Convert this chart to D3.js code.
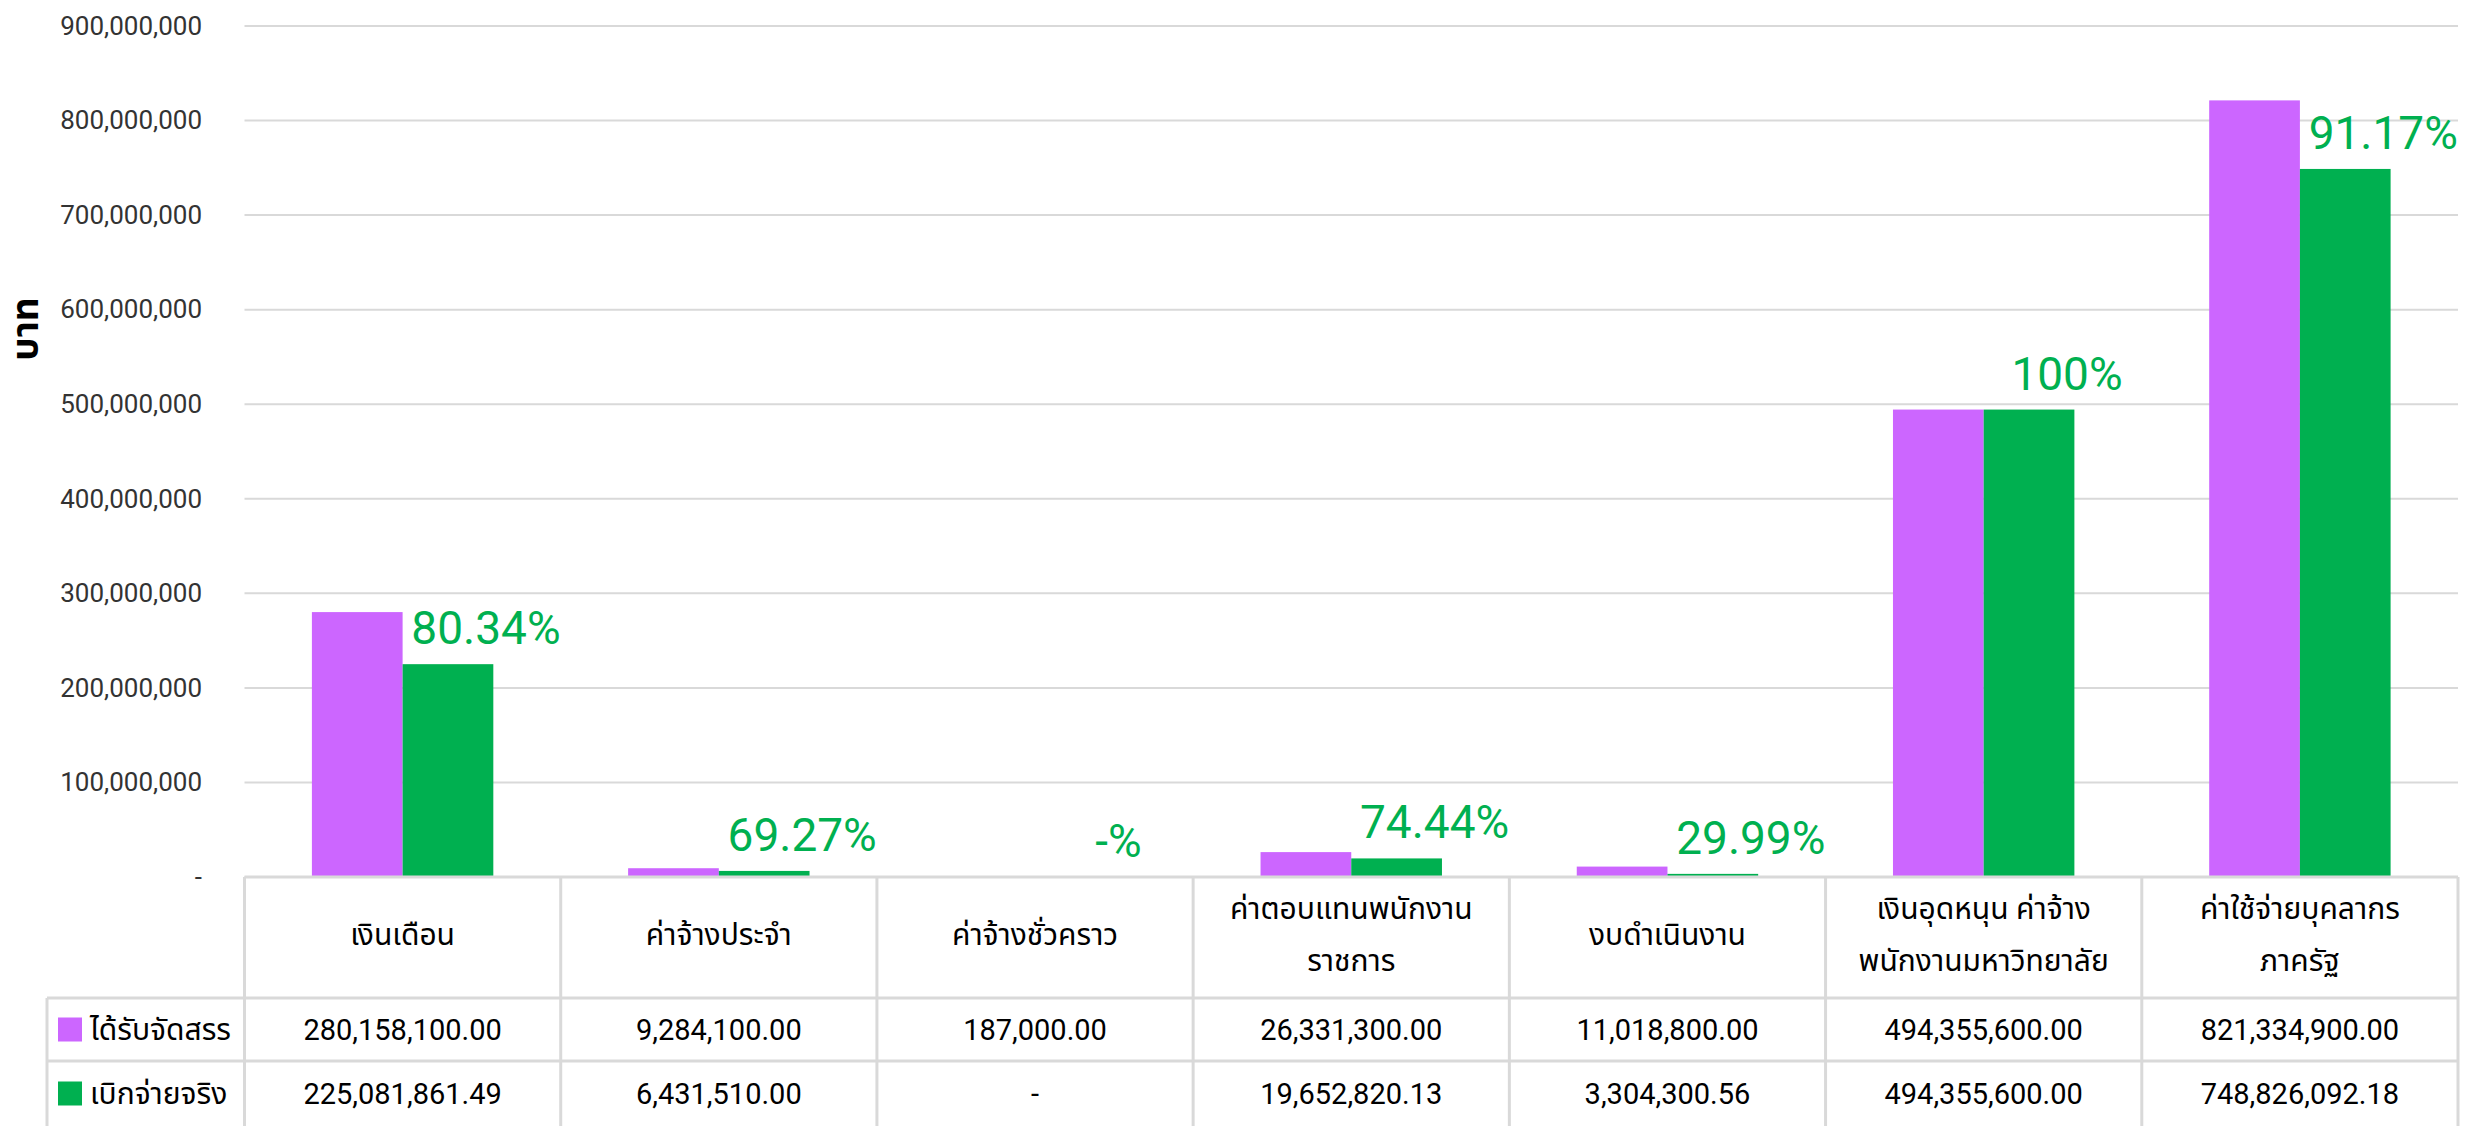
<!DOCTYPE html>
<html lang="th">
<head>
<meta charset="utf-8">
<script src="https://d3js.org/d3.v7.min.js"></script>
<style type="text/css">
body { margin: 0; background: #fff; }
text { font-family: Roboto, "Noto Sans Thai", Tahoma, sans-serif; }
</style>
</head>
<body>
<div id="chart"></div>
<script type="text/javascript">
// categories (header lines of the table)
var categories = [
    ["เงินเดือน"],
    ["ค่าจ้างประจำ"],
    ["ค่าจ้างชั่วคราว"],
    ["ค่าตอบแทนพนักงาน", "ราชการ"],
    ["งบดำเนินงาน"],
    ["เงินอุดหนุน ค่าจ้าง", "พนักงานมหาวิทยาลัย"],
    ["ค่าใช้จ่ายบุคลากร", "ภาครัฐ"]
];
var seriesNames = ["ได้รับจัดสรร", "เบิกจ่ายจริง"];
var allocated = [280158100.00, 9284100.00, 187000.00, 26331300.00, 11018800.00, 494355600.00, 821334900.00];
var spent = [225081861.49, 6431510.00, null, 19652820.13, 3304300.56, 494355600.00, 748826092.18];
var percentLabels = ["80.34%", "69.27%", "-%", "74.44%", "29.99%", "100%", "91.17%"];
var yTicks = [0, 100000000, 200000000, 300000000, 400000000, 500000000, 600000000, 700000000, 800000000, 900000000];
var yTitle = "บาท";

var colorList = ["#CC66FF", "#00B050"];

let width = 2473;
let height = 1126;

let svg = d3.select("#chart")
    .append("svg")
    .attr("width", width)
    .attr("height", height);

let plotLeft = 244.5, plotRight = 2458, plotTop = 26, zero = 877;
let headerBottom = 998, row1Bottom = 1061, tableBottom = 1126;

let x = d3.scaleBand()
    .domain(d3.range(categories.length))
    .range([plotLeft, plotRight]);

let x1 = d3.scaleBand()
    .domain([0, 1])
    .range([0, x.bandwidth()])
    .paddingOuter(0.743);

let y = d3.scaleLinear()
    .domain([0, 900000000])
    .range([zero, plotTop]);

// gridlines
svg.append("g")
    .selectAll("line")
    .data(yTicks)
    .enter()
    .append("line")
    .attr("x1", plotLeft)
    .attr("x2", plotRight)
    .attr("y1", d => y(d))
    .attr("y2", d => y(d))
    .attr("stroke", "#D9D9D9")
    .attr("stroke-width", 2);

// y axis labels
let yAxis = d3.axisLeft(y)
    .tickValues(yTicks)
    .tickSize(0)
    .tickPadding(0)
    .tickFormat(d => d === 0 ? "-" : d3.format(",")(d));

let ag = svg.append("g")
    .attr("transform", "translate(202,0)")
    .call(yAxis);
ag.select(".domain").remove();
ag.selectAll("text")
    .style("font-family", "Roboto, sans-serif")
    .style("font-size", "26px")
    .attr("fill", "#333");

svg.append("text")
    .attr("transform", "translate(25,329) rotate(-90)")
    .attr("text-anchor", "middle")
    .attr("dominant-baseline", "central")
    .style("font-size", "37px")
    .style("font-weight", "bold")
    .attr("fill", "#000")
    .text(yTitle);

// bars
let seriesData = [allocated, spent];
seriesData.forEach(function (vals, s) {
    svg.append("g")
        .selectAll("rect")
        .data(vals.map((v, i) => ({ i: i, v: v })).filter(d => d.v))
        .enter()
        .append("rect")
        .attr("x", d => x(d.i) + x1(s))
        .attr("width", x1.bandwidth())
        .attr("y", d => y(d.v))
        .attr("height", d => zero - y(d.v))
        .attr("fill", colorList[s]);
});

// percentage labels
svg.append("g")
    .selectAll("text")
    .data(percentLabels)
    .enter()
    .append("text")
    .attr("x", (d, i) => x(i) + x1(1) + x1.bandwidth() / 2 + 38)
    .attr("y", (d, i) => y(spent[i] || 0) - 20)
    .attr("text-anchor", "middle")
    .style("font-size", "46px")
    .attr("fill", colorList[1])
    .text(d => d);

// data table
let grid = svg.append("g").attr("stroke", "#D9D9D9").attr("stroke-width", 3);
grid.append("line").attr("x1", plotLeft).attr("x2", plotRight).attr("y1", zero).attr("y2", zero);
[headerBottom, row1Bottom].forEach(function (yy) {
    grid.append("line").attr("x1", 47).attr("x2", plotRight).attr("y1", yy).attr("y2", yy);
});
d3.range(categories.length + 1).forEach(function (k) {
    let xx = plotLeft + k * x.bandwidth();
    grid.append("line").attr("x1", xx).attr("x2", xx).attr("y1", zero).attr("y2", tableBottom);
});
grid.append("line").attr("x1", 47).attr("x2", 47).attr("y1", headerBottom).attr("y2", tableBottom);

// header
let headerMid = (zero + headerBottom) / 2;
categories.forEach(function (lines, i) {
    let t = svg.append("text")
        .attr("text-anchor", "middle")
        .style("font-size", "30px")
        .attr("fill", "#000");
    lines.forEach(function (ln, j) {
        t.append("tspan")
            .attr("x", x(i) + x.bandwidth() / 2)
            .attr("y", headerMid - 3 + (j - (lines.length - 1) / 2) * 52)
            .attr("dominant-baseline", "central")
            .text(ln);
    });
});

// rows
let fmt = d3.format(",.2f");
let rowMid = [(headerBottom + row1Bottom) / 2, (row1Bottom + tableBottom) / 2];
seriesData.forEach(function (vals, s) {
    svg.append("rect")
        .attr("x", 58)
        .attr("y", rowMid[s] - 12)
        .attr("width", 24)
        .attr("height", 24)
        .attr("fill", colorList[s]);
    svg.append("text")
        .attr("x", 90)
        .attr("y", rowMid[s])
        .attr("dominant-baseline", "central")
        .style("font-size", "30px")
        .attr("fill", "#000")
        .text(seriesNames[s]);
    svg.append("g")
        .selectAll("text")
        .data(vals)
        .enter()
        .append("text")
        .attr("x", (d, i) => x(i) + x.bandwidth() / 2)
        .attr("y", rowMid[s])
        .attr("text-anchor", "middle")
        .attr("dominant-baseline", "central")
        .style("font-size", "29px")
        .attr("fill", "#000")
        .text(d => d === null ? "-" : fmt(d));
});
</script>
</body>
</html>
